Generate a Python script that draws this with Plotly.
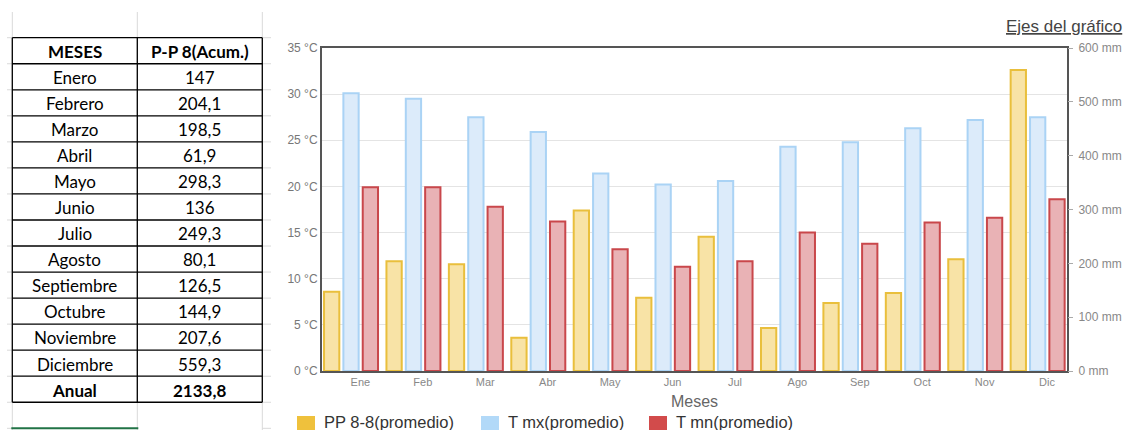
import plotly.graph_objects as go

W, H = 1125, 430

# ---- data -------------------------------------------------------------
meses_tabla = ["Enero", "Febrero", "Marzo", "Abril", "Mayo", "Junio", "Julio",
               "Agosto", "Septiembre", "Octubre", "Noviembre", "Diciembre"]
pp_acum = [147, 204.1, 198.5, 61.9, 298.3, 136, 249.3, 80.1, 126.5, 144.9, 207.6, 559.3]
pp_anual = 2133.8

meses_cortos = ["Ene", "Feb", "Mar", "Abr", "May", "Jun",
                "Jul", "Ago", "Sep", "Oct", "Nov", "Dic"]
t_max = [30.1, 29.5, 27.5, 25.9, 21.4, 20.2, 20.6, 24.3, 24.8, 26.3, 27.2, 27.5]
t_min = [19.9, 19.9, 17.8, 16.2, 13.2, 11.3, 11.9, 15.0, 13.8, 16.1, 16.6, 18.6]

serie_nombres = ["PP 8-8(promedio)", "T mx(promedio)", "T mn(promedio)"]


# ---- helpers: pixel -> paper fraction (margins are zero) --------------
def fx(x):
    return x / W


def fy(y):
    return 1 - y / H


def fmt(v):
    if float(v).is_integer():
        return str(int(v))
    return f"{v:.1f}".replace(".", ",")


FONT = "Liberation Sans, Arial, sans-serif"
TABLE_FONT = "Lato, Carlito, Calibri, sans-serif"

YEL_FILL, YEL_LINE, YEL_KEY = "#f8e3a6", "#e9bf3c", "#efc13c"
BLU_FILL, BLU_LINE, BLU_KEY = "#dcebfa", "#aad3f5", "#b2d9f8"
RED_FILL, RED_LINE, RED_KEY = "#e9b2b5", "#c9474b", "#d24b4b"

idx = list(range(len(meses_cortos)))
bw = 0.245

fig = go.Figure()
fig.add_bar(x=idx, y=pp_acum, yaxis="y2", name=serie_nombres[0],
            width=bw, offset=-0.31 - bw / 2,
            marker=dict(color=YEL_FILL, line=dict(color=YEL_LINE, width=2)))
fig.add_bar(x=idx, y=t_max, name=serie_nombres[1],
            width=bw, offset=-bw / 2,
            marker=dict(color=BLU_FILL, line=dict(color=BLU_LINE, width=2)))
fig.add_bar(x=idx, y=t_min, name=serie_nombres[2],
            width=bw, offset=0.31 - bw / 2,
            marker=dict(color=RED_FILL, line=dict(color=RED_LINE, width=2)))

# ---- plot area --------------------------------------------------------
px_l, px_r, px_t, px_b = 322, 1067, 48, 371

fig.update_layout(
    width=W, height=H,
    margin=dict(l=0, r=0, t=0, b=0, autoexpand=False),
    paper_bgcolor="white", plot_bgcolor="white",
    barmode="overlay", showlegend=False,
    font=dict(family=FONT),
    xaxis=dict(
        domain=[fx(px_l), fx(px_r)],
        range=[-0.465, 11.47],
        tickvals=[i + 0.15 for i in idx], ticktext=meses_cortos,
        tickfont=dict(size=11, color="#888888"),
        showline=True, mirror=True, linecolor="#555555", linewidth=2,
        showgrid=False, zeroline=False, ticks="",
        title=dict(text="Meses", font=dict(size=16, color="#666666"), standoff=9),
    ),
    yaxis=dict(
        domain=[fy(px_b), fy(px_t)],
        range=[0, 35], dtick=5, ticksuffix=" °C",
        tickfont=dict(size=12, color="#777777"),
        showline=True, mirror=True, linecolor="#555555", linewidth=2,
        showgrid=True, gridcolor="#e4e4e4", gridwidth=1, zeroline=False, ticks="",
    ),
    yaxis2=dict(
        range=[0, 600], dtick=100, ticksuffix=" mm",
        overlaying="y", side="right",
        tickfont=dict(size=12, color="#888888"),
        ticks="outside", ticklen=5, tickcolor="#aaaaaa",
        ticklabelstandoff=3,
        showline=False, showgrid=False, zeroline=False,
    ),
)

shapes = []
annotations = []

# ---- legend under the plot -------------------------------------------
key_x = [297, 481, 649]
key_cols = [YEL_KEY, BLU_KEY, RED_KEY]
for kx, kc, name in zip(key_x, key_cols, serie_nombres):
    shapes.append(dict(type="rect", xref="paper", yref="paper",
                       x0=fx(kx), x1=fx(kx + 18), y0=fy(434), y1=fy(416),
                       fillcolor=kc, line=dict(width=0)))
    annotations.append(dict(xref="paper", yref="paper", x=fx(kx + 25), y=fy(411),
                            xanchor="left", yanchor="top", showarrow=False,
                            text=name, font=dict(size=16.5, color="#333333")))

annotations.append(dict(xref="paper", yref="paper", x=fx(1004), y=fy(15),
                        xanchor="left", yanchor="top", showarrow=False,
                        text="<u>Ejes del gráfico</u>",
                        font=dict(size=17, color="#444444")))

# ---- spreadsheet table ------------------------------------------------
col_x = [12.3, 137.3, 262.3]
row_top, row_h = 37.7, 26.04
n_rows = len(meses_tabla) + 2
grid = "#d9d9d9"

for cx in col_x:
    shapes.append(dict(type="line", xref="paper", yref="paper",
                       x0=fx(cx), x1=fx(cx), y0=fy(12), y1=fy(H),
                       line=dict(color=grid, width=1)))
stub_rows = [row_top + k * row_h for k in range(n_rows + 2)]
for sy in stub_rows:
    shapes.append(dict(type="line", xref="paper", yref="paper",
                       x0=fx(7), x1=fx(col_x[0]), y0=fy(sy), y1=fy(sy),
                       line=dict(color=grid, width=1)))
    shapes.append(dict(type="line", xref="paper", yref="paper",
                       x0=fx(col_x[2]), x1=fx(271), y0=fy(sy), y1=fy(sy),
                       line=dict(color=grid, width=1)))

table_bottom = row_top + n_rows * row_h
for k in range(n_rows + 1):
    yy = row_top + k * row_h
    shapes.append(dict(type="line", xref="paper", yref="paper",
                       x0=fx(col_x[0]), x1=fx(col_x[2]), y0=fy(yy), y1=fy(yy),
                       line=dict(color="#000000", width=1.3)))
for cx in col_x:
    shapes.append(dict(type="line", xref="paper", yref="paper",
                       x0=fx(cx), x1=fx(cx), y0=fy(row_top), y1=fy(table_bottom),
                       line=dict(color="#000000", width=1.3)))

# selected-cell edge
sel_y = table_bottom + row_h
shapes.append(dict(type="line", xref="paper", yref="paper",
                   x0=fx(col_x[0] - 1), x1=fx(col_x[1] + 1), y0=fy(sel_y), y1=fy(sel_y),
                   line=dict(color="#217346", width=2)))

rows = [("<b>MESES</b>", "<b>P-P 8(Acum.)</b>")]
rows += [(m, fmt(v)) for m, v in zip(meses_tabla, pp_acum)]
rows.append(("<b>Anual</b>", f"<b>{fmt(pp_anual)}</b>"))

c1 = (col_x[0] + col_x[1]) / 2
c2 = (col_x[1] + col_x[2]) / 2
for r, (a, b) in enumerate(rows):
    yc = row_top + (r + 0.5) * row_h + 0.8
    for cx, txt in ((c1, a), (c2, b)):
        annotations.append(dict(xref="paper", yref="paper", x=fx(cx), y=fy(yc),
                                xanchor="center", yanchor="middle", showarrow=False,
                                text=txt,
                                font=dict(family=TABLE_FONT, size=17, color="#000000")))

fig.update_layout(shapes=shapes, annotations=annotations)

fig.write_html("out.html")
